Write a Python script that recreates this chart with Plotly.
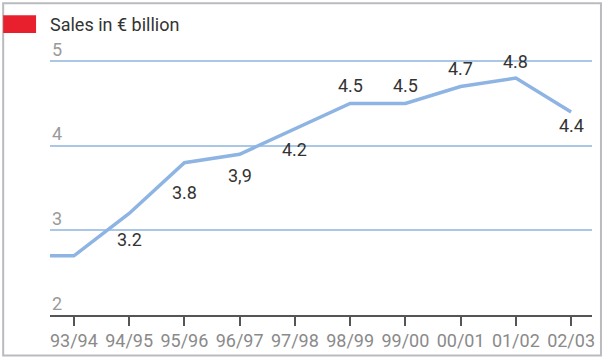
import plotly.graph_objects as go

# ---- data ----
categories = ["92/93", "93/94", "94/95", "95/96", "96/97", "97/98",
              "98/99", "99/00", "00/01", "01/02", "02/03"]
sales = [2.7, 2.7, 3.2, 3.8, 3.9, 4.2, 4.5, 4.5, 4.7, 4.8, 4.4]
value_labels = ["", "", "3.2", "3.8", "3,9", "4.2", "4.5", "4.5", "4.7", "4.8", "4.4"]
y_ticks = [2, 3, 4, 5]
legend_title = "Sales in € billion"

# label offsets (style)
label_shift = [0, 0, -26, -30, -21, -21, 18, 18, 18, 17, -14]

FONT = "Roboto"
W, H = 607, 363
L, R, T, B = 50, 13, 30, 44

fig = go.Figure()
fig.add_trace(go.Scatter(
    x=list(range(len(categories))), y=sales, mode="lines",
    line=dict(color="#8eb4e3", width=3.5),
    hoverinfo="skip", showlegend=False, cliponaxis=True,
))

for i, (t, s) in enumerate(zip(value_labels, label_shift)):
    if t:
        fig.add_annotation(x=i, y=sales[i], text=t, showarrow=False,
                           xref="x", yref="y", yshift=s,
                           font=dict(family=FONT, size=18, color="#333333"))

for v in y_ticks:
    fig.add_annotation(x=0, y=v, xref="paper", yref="y", text=str(v),
                       showarrow=False, xanchor="left", yanchor="middle",
                       xshift=0, yshift=12,
                       font=dict(family=FONT, size=18, color="#9a9a9a"))

ph = H - T - B
ppu = 85.8
fig.update_xaxes(
    range=[1 - 24 / 55.44, 10 + 21 / 55.44],
    tickmode="array", tickvals=list(range(1, len(categories))),
    ticktext=categories[1:],
    showline=True, linecolor="#555555", linewidth=1.5,
    ticks="outside", ticklen=9, tickwidth=1.5, tickcolor="#555555",
    tickfont=dict(family=FONT, size=18, color="#8a8a8a"),
    showgrid=False, zeroline=False, fixedrange=True,
)
fig.update_yaxes(
    range=[2, 2 + ph / ppu],
    tickmode="array", tickvals=y_ticks[1:], showticklabels=False,
    showgrid=True, gridcolor="#aac7e8", gridwidth=2,
    zeroline=False, showline=False, fixedrange=True,
)

pw = W - L - R
def px_to_paper_x(px):
    return (px - L) / pw
def px_to_paper_y(py):
    return (H - B - py) / ph

# outer border
fig.add_shape(type="rect", xref="paper", yref="paper",
              x0=px_to_paper_x(3), x1=px_to_paper_x(603),
              y0=px_to_paper_y(360), y1=px_to_paper_y(3),
              line=dict(color="#bbbbbf", width=2), fillcolor="rgba(0,0,0,0)",
              layer="below")
# legend swatch
fig.add_shape(type="rect", xref="paper", yref="paper",
              x0=px_to_paper_x(3), x1=px_to_paper_x(36),
              y0=px_to_paper_y(33), y1=px_to_paper_y(15),
              line=dict(width=0), fillcolor="#e8202e")
fig.add_annotation(x=px_to_paper_x(50), y=px_to_paper_y(24), xref="paper", yref="paper",
                   text=legend_title, showarrow=False, xanchor="left", yanchor="middle",
                   xshift=-2,
                   font=dict(family=FONT, size=18, color="#333333"))

fig.update_layout(
    width=W, height=H,
    margin=dict(l=L, r=R, t=T, b=B, pad=0),
    paper_bgcolor="white", plot_bgcolor="white",
    showlegend=False,
)

fig.write_html("out.html", config={"displayModeBar": False},
               post_script="document.body.style.margin='0';document.body.style.padding='0';")
